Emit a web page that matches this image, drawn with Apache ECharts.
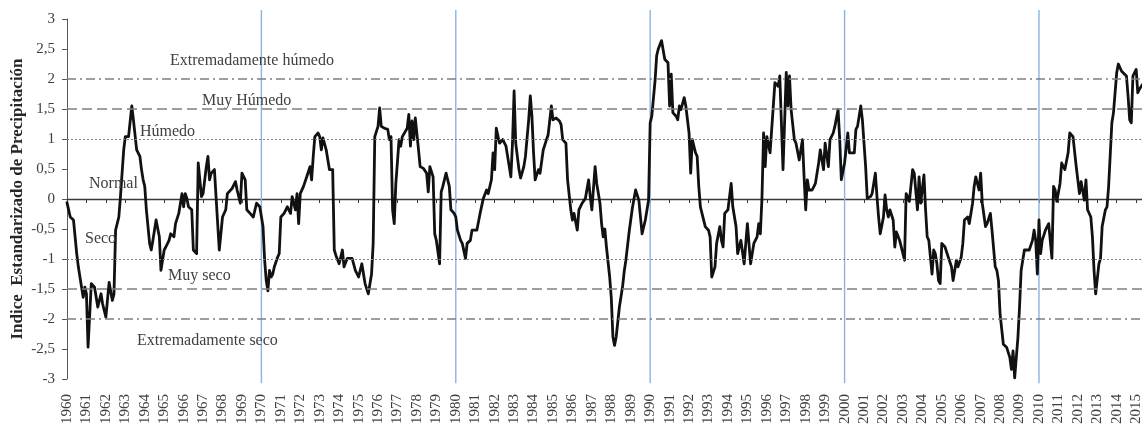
<!DOCTYPE html>
<html>
<head>
<meta charset="utf-8">
<script src="https://cdn.jsdelivr.net/npm/echarts@6/dist/echarts.min.js"></script>
<style>
  html, body { margin: 0; padding: 0; background: #fff; }
  #chart { width: 1142px; height: 424px; }
</style>
</head>
<body>
<div id="chart"></div>
<script>
// Standardized Precipitation Index, 1960-2015.
// Each decade: month offsets counted from January 1960, and the index value at that month.
const months1960s = [0,2,4,6,7,9,10,11,12,13,15,17,19,21,22,24,26,28,29,30,32,33,35,36,38,40,41,43,45,46,47,48,49,51,52,53,55,57,58,60,61,63,64,66,67,69,71,72,73,74,75,77,78,80,81,83,84,86,87,88,89,91,92,94,96,98,99,102,104,105,107,108,110,111,113,115,117,119];
const spi1960s = [-0.06,-0.30,-0.35,-0.91,-1.13,-1.47,-1.64,-1.47,-1.58,-2.47,-1.41,-1.47,-1.80,-1.58,-1.75,-1.97,-1.39,-1.69,-1.58,-0.52,-0.30,0.04,0.82,1.04,1.04,1.55,1.32,0.82,0.71,0.49,0.32,0.21,-0.18,-0.74,-0.85,-0.69,-0.35,-0.63,-1.19,-0.85,-0.80,-0.69,-0.58,-0.63,-0.41,-0.24,0.09,-0.13,0.09,0.01,-0.13,-0.18,-0.85,-0.91,0.60,0.04,0.09,0.54,0.71,0.32,0.43,0.49,0.04,-0.85,-0.30,-0.18,0.09,0.18,0.29,0.15,-0.07,0.43,0.32,-0.18,-0.24,-0.30,-0.07,-0.13];

const months1970s = [121,122,123,124,125,126,127,128,130,131,132,134,136,138,139,141,142,143,144,146,148,150,151,152,153,155,156,157,158,160,162,163,164,165,166,168,170,171,173,176,178,180,182,184,186,188,189,190,192,193,194,196,198,199,200,201,202,203,205,206,207,210,211,212,213,214,215,217,218,220,222,223,224,226,227,228,230,231,232,234,236,237,239];
const spi1970s = [-0.46,-1.02,-1.36,-1.53,-1.19,-1.30,-1.25,-1.13,-0.97,-0.91,-0.30,-0.24,-0.13,-0.24,0.04,-0.18,0.09,-0.41,0.09,0.21,0.37,0.54,0.32,0.71,1.04,1.10,1.04,0.82,1.02,0.82,0.49,0.49,0.49,-0.85,-0.94,-1.08,-0.85,-1.13,-0.99,-0.99,-1.19,-1.30,-1.08,-1.41,-1.58,-1.25,-0.74,1.04,1.21,1.52,1.21,1.18,1.16,0.99,1.04,-0.18,-0.41,0.26,0.99,0.88,1.04,1.18,1.41,0.88,1.30,0.99,1.35,0.82,0.54,0.51,0.43,0.12,0.54,0.37,-0.58,-0.69,-1.08,0.12,0.21,0.43,0.21,-0.18,-0.24];

const months1980s = [240,241,243,244,246,247,249,250,253,255,257,259,260,262,263,264,265,267,269,271,272,274,275,276,277,279,280,282,283,285,286,287,288,289,291,292,294,296,297,299,300,302,304,305,306,308,309,311,312,313,315,316,318,320,322,323,324,326,327,329,330,331,332,333,334,335,336,337,338,339,341,343,344,345,347,349,351,353,355,357,358,359];
const spi1980s = [-0.30,-0.52,-0.69,-0.74,-0.99,-0.74,-0.69,-0.52,-0.52,-0.24,0.01,0.15,0.09,0.32,0.77,0.49,1.18,0.93,0.99,0.88,0.71,0.37,0.93,1.80,0.93,0.49,0.35,0.54,0.71,1.32,1.72,1.38,0.77,0.32,0.49,0.43,0.82,0.99,1.07,1.55,1.32,1.35,1.30,1.24,0.99,0.93,0.32,-0.18,-0.35,-0.24,-0.52,-0.18,-0.07,0.01,0.32,0.04,-0.18,0.54,0.26,-0.07,-0.41,-0.63,-0.50,-0.80,-1.05,-1.30,-1.65,-2.30,-2.44,-2.30,-1.80,-1.45,-1.20,-1.02,-0.55,-0.15,0.15,-0.02,-0.58,-0.35,-0.35,-0.02];

const months1990s = [360,361,363,364,365,367,369,371,372,373,374,376,377,378,379,381,382,384,385,386,388,389,390,391,394,396,397,398,400,401,403,404,405,406,408,410,411,413,414,416,418,420,422,424,426,427,428,429,430,431,432,434,437,439,440,442,444,445,446,447,449,450,452,454,455,456,457,458,460,462,464,465,467,468,470,471,473,474,476,477,478];
const spi1990s = [1.27,1.38,1.97,2.39,2.50,2.64,2.33,2.27,1.55,2.08,1.44,1.38,1.32,1.55,1.49,1.69,1.55,1.10,0.43,0.99,0.77,0.71,0.21,-0.13,-0.46,-0.52,-0.63,-1.30,-1.13,-0.74,-0.46,-0.69,-0.80,-0.24,-0.18,0.26,-0.13,-0.46,-0.91,-0.69,-1.08,-0.41,-1.08,-0.74,-0.63,-0.41,-0.58,0.01,1.10,0.54,1.04,0.77,1.94,1.88,2.05,0.49,2.11,1.55,2.05,1.49,0.99,0.93,0.65,0.99,0.37,-0.18,0.32,0.15,0.15,0.26,0.60,0.82,0.49,0.93,0.54,0.99,1.10,1.21,1.49,0.99,0.32];

const months2000s = [480,482,483,486,487,488,490,491,493,494,496,497,499,500,501,502,504,505,506,507,508,510,511,512,514,515,517,518,519,520,522,523,525,526,527,529,530,531,532,534,535,536,537,538,539,540,542,544,546,547,549,550,552,553,554,556,557,559,560,561,563,564,565,567,568,570,571,573,574,575,576,578,580,582,583,584,585,587,588,589,591,592,594,596,597,598,599];
const spi2000s = [0.60,1.10,0.77,0.77,1.16,1.21,1.55,1.32,0.54,0.01,0.04,0.09,0.43,0.04,-0.30,-0.58,-0.30,0.07,-0.18,-0.30,-0.18,-0.35,-0.80,-0.55,-0.69,-0.69,-1.02,0.09,0.12,-0.04,0.49,0.43,-0.18,0.37,-0.07,0.40,-0.18,-0.63,-0.69,-1.25,-0.85,-0.91,-1.08,-1.36,-1.41,-0.74,-0.80,-0.97,-1.13,-1.36,-1.02,-1.13,-0.97,-0.74,-0.35,-0.30,-0.41,-0.07,0.21,0.37,0.15,0.43,-0.07,-0.46,-0.41,-0.24,-0.52,-1.13,-1.19,-1.36,-1.92,-2.42,-2.47,-2.64,-2.84,-2.53,-2.98,-2.31,-1.80,-1.19,-0.85,-0.83,-0.85,-0.69,-0.52,-0.69,-1.25];

const months2010s = [600,601,602,604,606,608,609,610,611,613,614,616,618,619,621,622,623,625,626,628,629,630,632,633,634,635,637,638,639,641,642,643,645,646,648,649,651,652,654,655,656,657,658,660,661,662,664];
const spi2010s = [-0.35,-0.91,-0.69,-0.52,-0.41,-0.99,0.21,0.15,-0.04,0.26,0.60,0.49,0.77,1.10,1.04,1.07,0.54,0.09,0.29,-0.02,0.32,-0.18,-0.30,-0.63,-1.19,-1.58,-1.08,-0.99,-0.46,-0.18,-0.13,0.21,1.27,1.44,2.11,2.25,2.13,2.16,2.05,1.72,1.32,1.27,2.05,2.16,1.77,1.83,1.91];

// Year tick labels run from 1960 to 2015; decade markers drawn as vertical lines.
const firstYear = 1960;
const lastYear = 2015;
const decadeMarks = [1970, 1980, 1990, 2000, 2010];

// Category thresholds of the index and their names.
const thresholdValues = [2, 1.5, 1, -1, -1.5, -2];
const thresholdStyles = ['dashdot', 'dash', 'dot', 'dot', 'dash', 'dashdot'];
const categoryNames = ['Extremadamente húmedo', 'Muy Húmedo', 'Húmedo', 'Normal', 'Seco', 'Muy seco', 'Extremadamente seco'];

function toPairs(months, values) {
  return months.map((m, i) => [firstYear + m / 12, values[i]]);
}
const spiData = [].concat(
  toPairs(months1960s, spi1960s),
  toPairs(months1970s, spi1970s),
  toPairs(months1980s, spi1980s),
  toPairs(months1990s, spi1990s),
  toPairs(months2000s, spi2000s),
  toPairs(months2010s, spi2010s)
);

const serif = '"Liberation Serif", "DejaVu Serif", serif';
const dashPatterns = { dashdot: [9, 4, 2, 4], dash: [10, 5], dot: [2, 2] };

const chart = echarts.init(document.getElementById('chart'), null, { renderer: 'canvas' });

// Positions of the category names inside the plot (pixels).
const namePos = [
  [170, 53], [202, 93], [140, 124], [89, 176], [85, 231], [168, 268], [137, 333]
];

chart.setOption({
  animation: false,
  backgroundColor: '#ffffff',
  grid: {
    left: 67, top: 19, width: 1075, height: 360,
    containLabel: false, outerBoundsMode: 'none'
  },
  xAxis: [
    {
      type: 'value', min: firstYear, max: lastYear + 0.3, interval: 1,
      position: 'bottom',
      axisLine: { show: false, onZero: false },
      axisTick: { show: false },
      splitLine: { show: false },
      axisLabel: {
        rotate: 90, margin: 15, fontFamily: serif, fontSize: 15, color: '#404040',
        showMaxLabel: false,
        formatter: v => (Number.isInteger(v) ? String(v) : '')
      }
    },
    {
      type: 'value', min: firstYear, max: lastYear + 0.3, interval: 1,
      position: 'bottom',
      axisLine: { show: true, onZero: true, lineStyle: { color: '#3a3a3a', width: 1.3 } },
      axisTick: { show: true, length: 4, inside: false, lineStyle: { color: '#3a3a3a', width: 1 } },
      axisLabel: { show: false },
      splitLine: { show: false }
    }
  ],
  yAxis: {
    type: 'value', min: -3, max: 3, interval: 0.5,
    name: 'Indice  Estandarizado de Precipitación',
    nameLocation: 'middle', nameRotate: 90, nameGap: 41, nameMoveOverlap: false,
    nameTextStyle: { fontFamily: serif, fontWeight: 'bold', fontSize: 17, color: '#262626' },
    axisLine: { show: true, onZero: false, lineStyle: { color: '#595959', width: 1 } },
    axisTick: { show: true, length: 5, inside: false, lineStyle: { color: '#595959' } },
    splitLine: { show: false },
    axisLabel: {
      margin: 12, fontFamily: serif, fontSize: 15, color: '#404040',
      formatter: v => String(v).replace('.', ',')
    }
  },
  graphic: categoryNames.map((t, i) => ({
    type: 'text', left: namePos[i][0], top: namePos[i][1], z: 5,
    style: { text: t, font: '16px ' + serif, fill: '#404040' }
  })),
  series: [
    {
      // horizontal category thresholds
      type: 'line', data: [], silent: true, z: 1,
      markLine: {
        silent: true, symbol: 'none', label: { show: false },
        data: thresholdValues.map((v, i) => ({
          yAxis: v,
          lineStyle: {
            type: dashPatterns[thresholdStyles[i]],
            color: '#7f7f7f',
            width: thresholdStyles[i] === 'dot' ? 1 : 1.6
          }
        }))
      }
    },
    {
      // decade markers
      type: 'custom', z: 2, silent: true,
      data: decadeMarks.map(y => [y]),
      renderItem: (params, api) => {
        const top = api.coord([api.value(0), 3.15]);
        const bottom = api.coord([api.value(0), -3.07]);
        return {
          type: 'line',
          shape: { x1: top[0], y1: top[1], x2: bottom[0], y2: bottom[1] },
          style: { stroke: '#8db3dd', lineWidth: 1.4 }
        };
      },
      clip: false
    },
    {
      type: 'line', data: spiData, z: 3,
      showSymbol: false, symbol: 'none', smooth: false,
      lineStyle: { color: '#111111', width: 2.8, join: 'round', cap: 'round' }
    }
  ]
});
</script>
</body>
</html>
